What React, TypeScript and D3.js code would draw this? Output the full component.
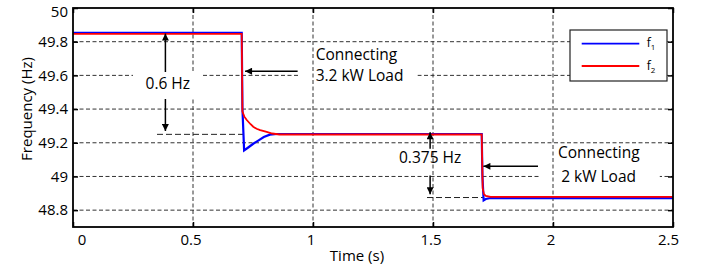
import { useEffect, useRef } from "react";
import * as d3 from "d3";

const W = 709;
const H = 266;

// axis ticks
const xTicks = [0, 0.5, 1, 1.5, 2, 2.5];
const yTicks = [48.8, 49, 49.2, 49.4, 49.6, 49.8, 50];

// f1 (blue) — time (s) / frequency (Hz)
const f1Time = [0, 0.703, 0.706, 0.713, 0.73, 0.751, 0.775, 0.795, 0.82, 0.85, 1.703, 1.706, 1.711, 1.72, 1.74, 2.5];
const f1Freq = [49.852, 49.852, 49.4, 49.155, 49.172, 49.194, 49.216, 49.234, 49.248, 49.252, 49.252, 49.0, 48.858, 48.866, 48.872, 48.872];

// f2 (red)
const f2Time = [0, 0.703, 0.706, 0.714, 0.724, 0.74, 0.751, 0.765, 0.78, 0.807, 0.83, 0.86, 1.703, 1.707, 1.712, 1.72, 1.74, 2.5];
const f2Freq = [49.847, 49.847, 49.385, 49.355, 49.335, 49.31, 49.295, 49.283, 49.275, 49.264, 49.255, 49.249, 49.249, 48.93, 48.895, 48.884, 48.879, 48.879];

const FONT = "'Open Sans', sans-serif";

export default function App() {
  const svgRef = useRef<SVGSVGElement>(null);

  useEffect(() => {
    const svgEl = svgRef.current;
    if (!svgEl) return;
    const svg = d3.select(svgEl);
    svg.selectAll("*").remove();

    const margin = { top: 8, right: 36, bottom: 39, left: 73 };
    const x = d3.scaleLinear().domain([0, 2.5]).range([margin.left, W - margin.right]);
    const y = d3.scaleLinear().domain([48.7, 50]).range([H - margin.bottom, margin.top]);
    const [x0, x1] = x.range();
    const [y0, y1] = y.range();

    // arrowhead marker
    svg.append("defs")
      .append("marker")
      .attr("id", "ah")
      .attr("viewBox", "0 0 10 10")
      .attr("refX", 10)
      .attr("refY", 5)
      .attr("markerUnits", "userSpaceOnUse")
      .attr("markerWidth", 9)
      .attr("markerHeight", 7)
      .attr("orient", "auto")
      .append("path")
      .attr("d", "M0,0L10,5L0,10z")
      .attr("fill", "#000");

    const gridStyle = (sel: d3.Selection<any, any, any, any>) =>
      sel.attr("stroke", "#333").attr("stroke-width", 1).attr("stroke-dasharray", "4,2.5");

    // ── horizontal grid
    svg.append("g")
      .selectAll("line")
      .data(yTicks.filter((d) => d < 50))
      .join("line")
      .attr("x1", x0)
      .attr("x2", x1)
      .attr("y1", (d) => y(d))
      .attr("y2", (d) => y(d))
      .call(gridStyle);

    // white boxes behind the "Connecting" notes (hide horizontal grid)
    const noteBoxes = [
      { t0: 0.944, t1: 1.435, f0: 49.715, f1: 49.44 },
      { t0: 1.945, t1: 2.445, f0: 49.175, f1: 48.915 },
    ];
    svg.append("g")
      .selectAll("rect")
      .data(noteBoxes)
      .join("rect")
      .attr("x", (d) => x(d.t0))
      .attr("width", (d) => x(d.t1) - x(d.t0))
      .attr("y", (d) => y(d.f0))
      .attr("height", (d) => y(d.f1) - y(d.f0))
      .attr("fill", "#fff");

    // ── vertical grid
    svg.append("g")
      .selectAll("line")
      .data(xTicks.filter((d) => d > 0 && d < 2.5))
      .join("line")
      .attr("x1", (d) => x(d))
      .attr("x2", (d) => x(d))
      .attr("y1", y0)
      .attr("y2", y1)
      .call(gridStyle);

    // white box behind "0.6 Hz"
    svg.append("rect")
      .attr("x", x(0.25))
      .attr("width", x(0.54) - x(0.25))
      .attr("y", y(49.62))
      .attr("height", y(49.46) - y(49.62))
      .attr("fill", "#fff");

    // level marker lines
    const levels = [
      { t0: 0.35, t1: 0.71, f: 49.25 },
      { t0: 1.475, t1: 1.71, f: 48.875 },
    ];
    svg.append("g")
      .selectAll("line")
      .data(levels)
      .join("line")
      .attr("x1", (d) => x(d.t0))
      .attr("x2", (d) => x(d.t1))
      .attr("y1", (d) => y(d.f))
      .attr("y2", (d) => y(d.f))
      .attr("stroke", "#222")
      .attr("stroke-width", 1)
      .attr("stroke-dasharray", "6,3");

    // ── data lines
    const line = d3.line<[number, number]>().x((d) => x(d[0])).y((d) => y(d[1]));
    const f1 = f1Time.map((t, i) => [t, f1Freq[i]] as [number, number]);
    const f2 = f2Time.map((t, i) => [t, f2Freq[i]] as [number, number]);
    svg.append("path").attr("d", line(f1)).attr("fill", "none").attr("stroke", "#0000ff").attr("stroke-width", 2.2);
    svg.append("path").attr("d", line(f2)).attr("fill", "none").attr("stroke", "#ff0000").attr("stroke-width", 1.8);

    // ── arrows
    const arrows = [
      // 0.6 Hz dimension
      { ta: 0.385, fa: 49.62, tb: 0.385, fb: 49.848 },
      { ta: 0.385, fa: 49.46, tb: 0.385, fb: 49.27 },
      // 0.375 Hz dimension
      { ta: 1.488, fa: 49.165, tb: 1.488, fb: 49.262 },
      { ta: 1.488, fa: 49.005, tb: 1.488, fb: 48.895 },
      // load notes
      { ta: 0.936, fa: 49.625, tb: 0.717, fb: 49.625 },
      { ta: 1.9375, fa: 49.06, tb: 1.71, fb: 49.06 },
    ];
    svg.append("g")
      .selectAll("line")
      .data(arrows)
      .join("line")
      .attr("x1", (d) => x(d.ta))
      .attr("y1", (d) => y(d.fa))
      .attr("x2", (d) => x(d.tb))
      .attr("y2", (d) => y(d.fb))
      .attr("stroke", "#000")
      .attr("stroke-width", 1.5)
      .attr("marker-end", "url(#ah)");

    // ── annotation text
    const notes = [
      { t: 0.395, f: 49.52, text: "0.6 Hz", anchor: "middle" },
      { t: 1.011, f: 49.69, text: "Connecting", anchor: "start" },
      { t: 1.011, f: 49.567, text: "3.2 kW Load", anchor: "start" },
      { t: 1.488, f: 49.077, text: "0.375 Hz", anchor: "middle" },
      { t: 2.021, f: 49.11, text: "Connecting", anchor: "start" },
      { t: 2.034, f: 48.97, text: "2 kW Load", anchor: "start" },
    ];
    svg.append("g")
      .selectAll("text")
      .data(notes)
      .join("text")
      .attr("x", (d) => x(d.t))
      .attr("y", (d) => y(d.f))
      .attr("text-anchor", (d) => d.anchor)
      .attr("font-family", FONT)
      .attr("font-size", 15.5)
      .attr("fill", "#000")
      .text((d) => d.text);

    // ── legend
    const lg = svg.append("g").attr("transform", "translate(570,30)");
    lg.append("rect").attr("width", 97).attr("height", 51).attr("fill", "#fff").attr("stroke", "#222").attr("stroke-width", 1.2);
    const legendItems = [
      { name: "1", color: "#0000ff" },
      { name: "2", color: "#ff0000" },
    ];
    const li = lg.selectAll("g.item").data(legendItems).join("g").attr("transform", (_, i) => `translate(0,${13.7 + i * 22.3})`);
    li.append("line").attr("x1", 11.7).attr("x2", 69.3).attr("stroke", (d) => d.color).attr("stroke-width", 1.8);
    const lt = li.append("text").attr("x", 76.7).attr("y", 3.5).attr("font-family", FONT).attr("font-size", 12).attr("fill", "#000");
    lt.append("tspan").text("f");
    lt.append("tspan").attr("font-size", 8).attr("dy", 3).text((d) => d.name);

    // ── axes (inward ticks)
    const axisText = (g: d3.Selection<SVGGElement, unknown, null, undefined>) =>
      g.call((g) => g.select(".domain").remove())
        .call((g) => g.selectAll(".tick line").attr("stroke", "#000").attr("stroke-width", 1.5))
        .call((g) => g.selectAll("text").attr("font-family", FONT).attr("font-size", 15).attr("fill", "#000"));

    svg.append("g")
      .attr("transform", `translate(${x0},0)`)
      .call(d3.axisLeft(y).tickValues(yTicks).tickSize(-5).tickSizeOuter(0).tickPadding(5).tickFormat((d) => String(d)))
      .call(axisText)
      .call((g) =>
        g.selectAll<SVGTextElement, number>("text")
          .attr("dy", (d) => (d === 50 ? "0.55em" : "0.32em"))
      );

    svg.append("g")
      .attr("transform", `translate(0,${y0})`)
      .call(d3.axisBottom(x).tickValues(xTicks).tickSize(-5).tickSizeOuter(0).tickPadding(7).tickFormat((d) => String(d)))
      .call(axisText)
      .call((g) =>
        g.selectAll<SVGTextElement, number>("text")
          .attr("dx", (d) => (d === 0 ? 8.5 : d === 2.5 ? -5 : -2.5))
      );

    svg.append("g")
      .attr("transform", `translate(${x1},0)`)
      .call(d3.axisRight(y).tickValues(yTicks).tickSize(-5).tickSizeOuter(0).tickFormat(() => ""))
      .call(axisText);

    svg.append("g")
      .attr("transform", `translate(0,${y1})`)
      .call(d3.axisTop(x).tickValues(xTicks).tickSize(-5).tickSizeOuter(0).tickFormat(() => ""))
      .call(axisText);

    // frame
    svg.append("rect")
      .attr("x", x0)
      .attr("y", y1)
      .attr("width", x1 - x0)
      .attr("height", y0 - y1)
      .attr("fill", "none")
      .attr("stroke", "#000")
      .attr("stroke-width", 1.8);

    // axis titles
    svg.append("text")
      .attr("x", 357)
      .attr("y", 261)
      .attr("text-anchor", "middle")
      .attr("font-family", FONT)
      .attr("font-size", 15)
      .attr("fill", "#000")
      .text("Time (s)");

    svg.append("text")
      .attr("transform", "translate(31.5,109) rotate(-90)")
      .attr("text-anchor", "middle")
      .attr("font-family", FONT)
      .attr("font-size", 15)
      .attr("fill", "#000")
      .text("Frequency (Hz)");
  }, []);

  return (
    <svg
      ref={svgRef}
      width={W}
      height={H}
      style={{ position: "absolute", left: 0, top: 0, background: "#fff", display: "block" }}
    />
  );
}
